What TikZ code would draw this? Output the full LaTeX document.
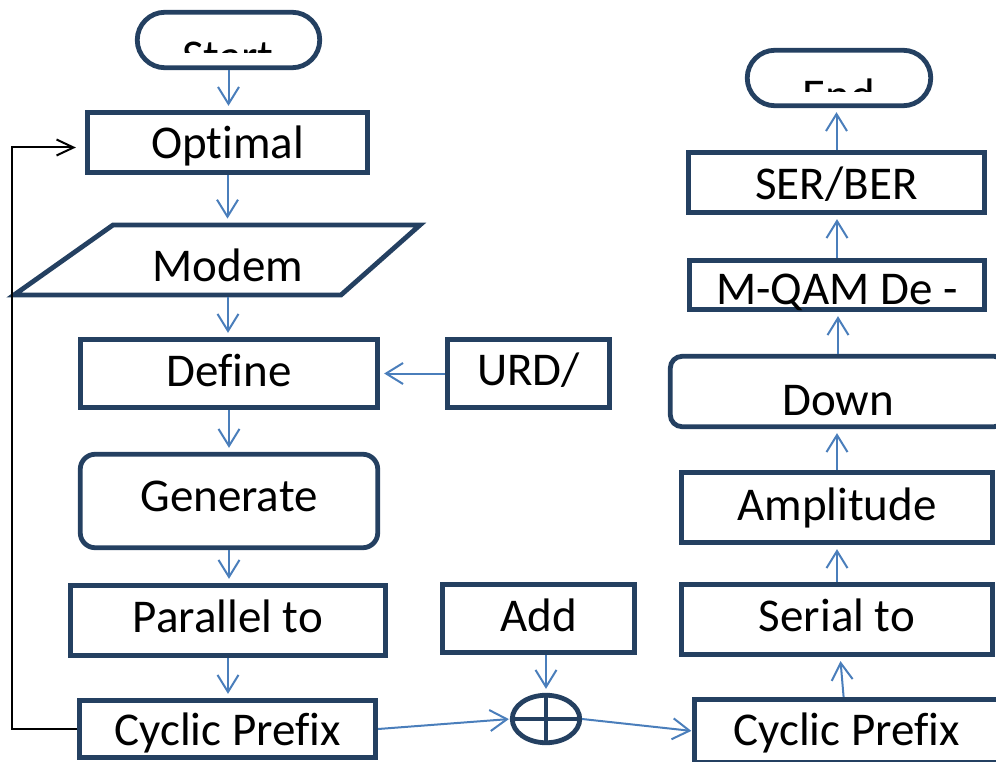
\documentclass[tikz,border=0pt]{standalone}
\usepackage{fontspec}
\setmainfont{Carlito}[Ligatures=CommonOff]
\usetikzlibrary{arrows.meta}
\usetikzlibrary{shapes.geometric}

\definecolor{navy}{RGB}{36,64,97}
\definecolor{flow}{RGB}{74,126,187}

\begin{document}
\begin{tikzpicture}[x=1pt,y=-1pt,
    box/.style={draw=navy,line width=4.8pt,fill=white,inner sep=0pt,
      text height=29.7pt,text depth=0pt,font=\fontsize{47}{56}\selectfont},
    arr/.style={draw=flow,line width=2pt,
      -{Straight Barb[length=17pt,width=21pt]},shorten >=4pt},
    back/.style={draw=black,line width=2pt,
      -{Straight Barb[length=17pt,width=16pt]},shorten >=9pt}]
  \useasboundingbox (0,0) rectangle (996,762);
  \clip (0,0) rectangle (996,762);

  \node[box,rounded corners=27.7pt,minimum width=182.5pt,minimum height=55.5pt] (start) at (228.5,40) {};
  \begin{scope}
    \clip (130,10) rectangle (326,53);
    \node[anchor=base,inner sep=0pt,font=\fontsize{47}{56}\selectfont] (starttext) at (228,72.7) {Start};
  \end{scope}
  \node[box,minimum width=280.5pt,minimum height=60.5pt,text height=31.7pt] (optimal) at (227.5,142.5) {Optimal};
  \draw[navy,line width=4.8pt,line join=miter] (113,225) -- (420,225) -- (341,295) -- (14,295) -- cycle;
  \node[box,draw=none,fill=none,minimum height=70pt,text height=43.7pt] (modem) at (228,260) {Modem};
  \node[box,minimum width=297.5pt,minimum height=68.5pt,text height=25.7pt] (define) at (229,373.5) {Define};
  \node[box,minimum width=162.5pt,minimum height=68.5pt,text height=24.7pt] (urd) at (528.5,373.5) {URD/};
  \node[box,rounded corners=15pt,minimum width=297.5pt,minimum height=93.5pt,text height=21.7pt] (generate) at (229,501) {Generate};
  \node[box,minimum width=315.5pt,minimum height=70.5pt,text height=23.7pt] (parallel) at (228,620.5) {Parallel to};
  \node[box,minimum width=296.5pt,minimum height=57.5pt,text height=33.7pt] (cyclicl) at (227.5,729) {Cyclic Prefix};
  \node[box,minimum width=192.5pt,minimum height=68.5pt,text height=26.7pt] (add) at (538.5,618.5) {Add};
  \node[box,ellipse,text height=0pt,minimum width=67.5pt,minimum height=47.5pt] (sum) at (546,719) {};
  \draw[navy,line width=4.8pt] (sum.west) -- (sum.east) (sum.north) -- (sum.south);

  \node[box,minimum width=303.5pt,minimum height=63.5pt] (cyclicr) at (846.5,731) {Cyclic Prefix};
  \node[box,minimum width=310.5pt,minimum height=70.5pt,text height=24.7pt] (serial) at (837,619.5) {Serial to};
  \node[box,minimum width=310.5pt,minimum height=70.5pt,text height=25.7pt] (amplitude) at (837,507.5) {Amplitude};
  \node[box,rounded corners=12pt,minimum width=335.5pt,minimum height=70.5pt,text height=47.7pt] (down) at (838,391.5) {Down};
  \node[box,minimum width=295.5pt,minimum height=49.5pt,text height=39.7pt] (mqam) at (837,285) {M-QAM De -};
  \node[box,minimum width=296.5pt,minimum height=60.5pt,text height=33.7pt] (ser) at (836.5,182.5) {SER/BER};
  \node[box,rounded corners=27.7pt,minimum width=183.5pt,minimum height=55.5pt] (endn) at (839,78) {};
  \begin{scope}
    \clip (740,48) rectangle (940,92);
    \node[anchor=base,inner sep=0pt,font=\fontsize{47}{56}\selectfont] (endtext) at (839,112) {End};
  \end{scope}

  \foreach \a/\b in {start/optimal,optimal/modem,modem/define,define/generate,generate/parallel,parallel/cyclicl}
    \draw[arr] (\a.south) -- (\a.south |- \b.north);
  \foreach \a/\b in {serial/amplitude,amplitude/down,down/mqam,mqam/ser,ser/endn}
    \draw[arr] (\a.north) -- (\a.north |- \b.south);
  \draw[arr] (urd) -- (define);
  \draw[arr] (add.south -| sum) -- (sum);
  \draw[arr,shorten >=1pt] (cyclicl.east) -- (sum.west);
  \draw[arr,shorten >=1pt] (sum.east) -- (cyclicr.west);
  \draw[arr] (cyclicr) -- (serial);
  \draw[back] (cyclicl.west) -- ++(-65,0) |- ([yshift=-5pt]optimal.west);
\end{tikzpicture}
\end{document}
